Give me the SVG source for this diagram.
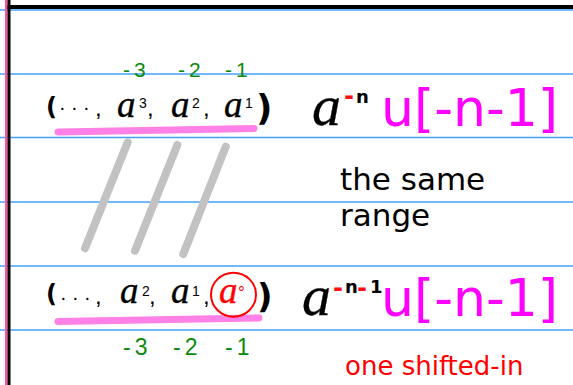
<svg xmlns="http://www.w3.org/2000/svg" width="573" height="385" viewBox="0 0 573 385">
<style>
.rule{stroke:#42a0ff;stroke-width:1.5}
.hw{font-family:"Liberation Serif",serif;font-style:italic;fill:#000;stroke:#000;stroke-width:0.35}
.par{font-family:"DejaVu Sans",sans-serif;font-weight:bold;fill:#000}
.cm{font-family:"Liberation Sans",sans-serif;font-size:24px;fill:#000}
.sup{font-family:"Liberation Sans",sans-serif;font-size:14px;fill:#000}
.dots{font-family:"Liberation Sans",sans-serif;font-size:20px;fill:#000}
.grn{font-family:"Liberation Sans",sans-serif;fill:#0a8a0a;letter-spacing:4px}
.ul{fill:none;stroke:#ff80e6;stroke-width:7;stroke-linecap:round}
.slash{stroke:#c2c2c2;stroke-width:8;stroke-linecap:round}
.mag{font-family:"DejaVu Sans",sans-serif;font-size:52px;fill:#ff00ff}
.lbl{font-family:"DejaVu Sans",sans-serif;fill:#000}
.rdash{font-family:"DejaVu Sans",sans-serif;font-weight:bold;font-size:24px;fill:#ff1010}
.bn{font-family:"DejaVu Sans",sans-serif;font-weight:bold;font-size:18px;fill:#000}
</style>
<rect width="573" height="385" fill="#fff"/>
<g id="paper">
<line class="rule" x1="0" y1="10" x2="573" y2="10"/>
<line class="rule" x1="0" y1="74" x2="573" y2="74"/>
<line class="rule" x1="0" y1="137.5" x2="573" y2="137.5"/>
<line class="rule" x1="0" y1="202" x2="573" y2="202"/>
<line class="rule" x1="0" y1="266" x2="573" y2="266"/>
<line class="rule" x1="0" y1="330" x2="573" y2="330"/>
<rect x="5" y="0" width="2.5" height="385" fill="#ff4fa0"/>
<rect x="7.5" y="0" width="3" height="385" fill="#000"/>
<rect x="7.5" y="5" width="565.5" height="4" fill="#000"/>
</g>
<g id="connectors">
<line class="slash" x1="127.7" y1="142.3" x2="85" y2="248.3"/>
<line class="slash" x1="177.3" y1="145" x2="135" y2="250.7"/>
<line class="slash" x1="225.7" y1="146.7" x2="183.3" y2="254"/>
</g>
<g id="top-sequence">
<path class="ul" d="M58,132 Q156,130 254,128.5"/>
<text class="par" x="46" y="115" font-size="24">(</text>
<text class="dots" x="59 71 83" y="114">···</text>
<text class="cm" x="95" y="116">,</text>
<text class="hw" x="117" y="117" font-size="37">a</text>
<text class="sup" x="139" y="108">3</text>
<text class="cm" x="147" y="116">,</text>
<text class="hw" x="171" y="117" font-size="37">a</text>
<text class="sup" x="192" y="108">2</text>
<text class="cm" x="203" y="116">,</text>
<text class="hw" x="224" y="117" font-size="37">a</text>
<text class="sup" x="245" y="108">1</text>
<text class="par" x="256" y="120" font-size="36">)</text>
</g>
<g id="top-indices">
<text class="grn" x="123" y="77" font-size="21">-3</text>
<text class="grn" x="178" y="77" font-size="21">-2</text>
<text class="grn" x="225" y="77" font-size="21">-1</text>
</g>
<g id="top-expr">
<text class="hw" x="312" y="125" font-size="58" stroke-width="0.9">a</text>
<text class="rdash" x="344" y="104">-</text>
<text class="bn" x="356" y="103">n</text>
<text class="mag" x="381" y="126">u[-n-1]</text>
</g>
<g id="same-range">
<text class="lbl" x="340" y="190" font-size="31">the same</text>
<text class="lbl" x="340" y="226" font-size="31">range</text>
</g>
<g id="bottom-sequence">
<path class="ul" d="M58,321.5 Q158,319.5 259,318"/>
<text class="par" x="46" y="302" font-size="24">(</text>
<text class="dots" x="60 72 84" y="304">···</text>
<text class="cm" x="95" y="304">,</text>
<text class="hw" x="120" y="303" font-size="37">a</text>
<text class="sup" x="142" y="296">2</text>
<text class="cm" x="149" y="304">,</text>
<text class="hw" x="171" y="303" font-size="37">a</text>
<text class="sup" x="192" y="296">1</text>
<text class="cm" x="203" y="304">,</text>
<ellipse cx="233.5" cy="294.7" rx="22.5" ry="22" fill="none" stroke="#ff0000" stroke-width="2"/>
<text class="hw" x="219" y="303" font-size="37" style="fill:#ff0000;stroke:#ff0000">a</text>
<text x="238" y="298" font-family="Liberation Sans, sans-serif" font-size="17" fill="#ff0000">°</text>
<text class="par" x="257" y="308" font-size="34">)</text>
</g>
<g id="bottom-indices">
<text class="grn" x="123" y="355" font-size="23">-3</text>
<text class="grn" x="173" y="355" font-size="23">-2</text>
<text class="grn" x="225" y="355" font-size="23">-1</text>
</g>
<g id="bottom-expr">
<text class="hw" x="302" y="315" font-size="58" stroke-width="0.9">a</text>
<text class="rdash" x="333" y="296">-</text>
<text class="bn" x="345" y="293">n</text>
<text class="rdash" x="357" y="296">-</text>
<text class="bn" x="370" y="293" font-size="12">1</text>
<text class="mag" x="381" y="316">u[-n-1]</text>
</g>
<g id="note">
<text x="345" y="375" font-family="DejaVu Sans, sans-serif" font-size="26" fill="#ff0000">one shifted-in</text>
</g>
</svg>
